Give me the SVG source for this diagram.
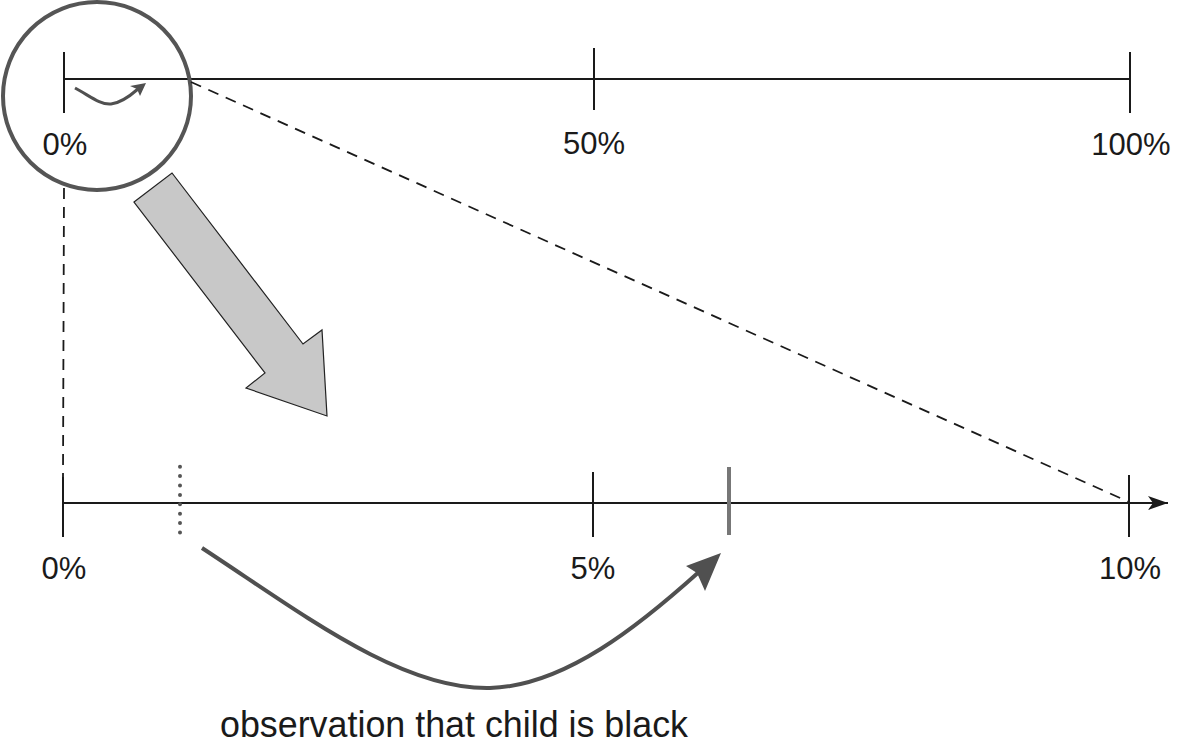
<svg xmlns="http://www.w3.org/2000/svg" width="1182" height="746" viewBox="0 0 1182 746">
<style>
.ax{stroke:#1a1a1a;stroke-width:2;fill:none}
.dash{stroke:#1a1a1a;stroke-width:1.8;fill:none;stroke-dasharray:11 8}
.lbl{font-family:"Liberation Sans",Arial,sans-serif;font-size:31px;fill:#1a1a1a;text-anchor:middle}
.cap{font-family:"Liberation Sans",Arial,sans-serif;font-size:37px;fill:#1a1a1a}
.cur{stroke:#505050;fill:none;stroke-linecap:butt}
.hd{fill:#505050}
</style>
<defs>
<marker id="axhead" viewBox="0 0 20 14" refX="20" refY="7" markerWidth="20" markerHeight="14" markerUnits="userSpaceOnUse" orient="auto">
<path d="M0,0 L20,7 L0,14 L5,7 Z" fill="#1a1a1a"/>
</marker>
</defs>
<g id="top-axis">
<line class="ax" x1="64" y1="79" x2="1130" y2="79"/>
<line class="ax" x1="64" y1="52" x2="64" y2="113"/>
<line class="ax" x1="594" y1="48" x2="594" y2="110"/>
<line class="ax" x1="1130" y1="52" x2="1130" y2="113"/>
<text class="lbl" x="65" y="155">0%</text>
<text class="lbl" x="594" y="154">50%</text>
<text class="lbl" x="1131" y="155">100%</text>
</g>
<g id="zoom-circle">
<circle cx="97" cy="96" r="94" fill="none" stroke="#555" stroke-width="4"/>
<path class="cur" stroke-width="3" d="M75,88 C90,96 100,105 111,104 C121,103 130,96 138,89"/>
<polygon class="hd" points="146,83 130,86 137,89 140,96"/>
</g>
<g id="block-arrow">
<polygon points="134,202 172,173 303,344 322,330 327,416 246,388 265,373" fill="#c8c8c8" stroke="#222" stroke-width="1.2" stroke-linejoin="miter"/>
</g>
<g id="connectors">
<line class="dash" x1="191" y1="82" x2="1129" y2="502"/>
<line class="dash" x1="64" y1="188" x2="63" y2="478"/>
</g>
<g id="bottom-axis">
<line class="ax" x1="63" y1="503" x2="1168" y2="503" marker-end="url(#axhead)"/>
<line class="ax" x1="63" y1="477" x2="63" y2="537"/>
<line class="ax" x1="593" y1="472" x2="593" y2="537"/>
<line class="ax" x1="1129" y1="475" x2="1129" y2="537"/>
<line x1="180" y1="466.7" x2="180" y2="534" stroke="#555" stroke-width="4" stroke-linecap="round" stroke-dasharray="0 9.4"/>
<line x1="729" y1="467" x2="729" y2="535" stroke="#777" stroke-width="4"/>
<text class="lbl" x="64" y="579">0%</text>
<text class="lbl" x="593" y="579">5%</text>
<text class="lbl" x="1130" y="579">10%</text>
</g>
<g id="observation-arrow">
<path class="cur" stroke-width="4" d="M202,548 C300,612 400,690 490,688 C565,686 640,625 700,571"/>
<polygon class="hd" points="721,553 686,566 697,573 705,591"/>
<text class="cap" x="220" y="737" textLength="468" lengthAdjust="spacingAndGlyphs">observation that child is black</text>
</g>
</svg>
